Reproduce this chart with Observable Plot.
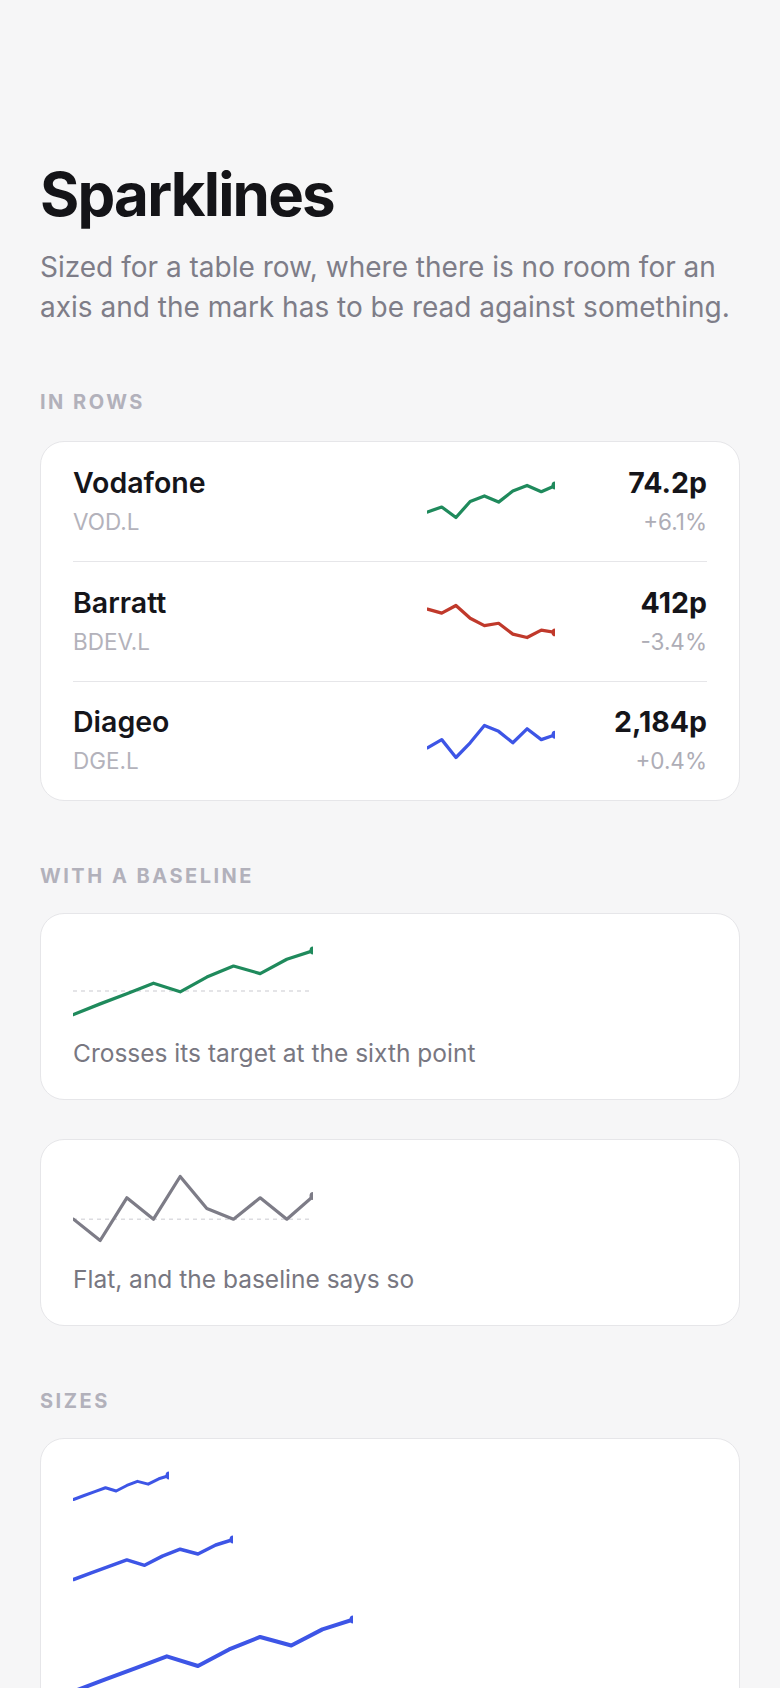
<!DOCTYPE html>
<html>
<head>
<meta charset="utf-8">
<script src="https://cdn.jsdelivr.net/npm/d3@7"></script>
<script src="https://cdn.jsdelivr.net/npm/@observablehq/plot@0.6"></script>
<style>
html, body { margin: 0; padding: 0; background: #f6f6f7; }
body { font-family: Inter, "Noto Sans", sans-serif; width: 780px; }
.wrap { padding: 164px 40px 60px 40px; }
h1 { margin: 0; font-size: 60px; line-height: 60px; font-weight: 700; letter-spacing: -0.03em; color: #141418; }
.sub { margin: 22.5px 0 0; font-size: 28px; line-height: 40px; color: #7e7d88; }
.label { font-size: 20px; line-height: 24px; font-weight: 700; letter-spacing: 0.125em; color: #b2b1bb; text-transform: uppercase; margin: 63.5px 0 26.7px; }
.label.l2, .label.l3 { margin-top: 63px; margin-bottom: 25.5px; }
.card { background: #fff; border: 1px solid #e6e6e9; border-radius: 24px; }
.rows { padding: 0 32px; }
.row { display: grid; grid-template-columns: 1fr 128px 120px; column-gap: 32px; align-items: center; height: 119px; }
.row + .row { border-top: 1px solid #e6e6e9; }
.row:last-child { height: 118px; }
.name { font-size: 28.5px; line-height: 32px; font-weight: 600; color: #15151a; }
.tick { font-size: 22.5px; line-height: 28px; color: #b3b2bb; margin-top: 9px; }
.right { text-align: right; }
.price { font-size: 28.5px; line-height: 32px; font-weight: 700; color: #15151a; }
.chg { font-size: 22.5px; line-height: 28px; color: #aeadb6; margin-top: 9px; }
.spark svg { display: block; }
.bcard { padding: 32px; }
.bcard + .bcard { margin-top: 38.5px; }
.cap { margin-top: 21px; font-size: 24.5px; line-height: 28px; color: #787781; }
.sizes { padding: 32px; }
.sizes .s + .s { margin-top: 32px; }
.sizes svg, .bcard svg { display: block; }
</style>
</head>
<body>
<div class="wrap">
  <h1>Sparklines</h1>
  <div class="sub">Sized for a table row, where there is no room for an axis and the mark has to be read against something.</div>

  <div class="label">In rows</div>
  <div class="card rows" id="rows"></div>

  <div class="label l2">With a baseline</div>
  <div class="card bcard" id="b1"><div class="chart"></div><div class="cap"></div></div>
  <div class="card bcard" id="b2"><div class="chart"></div><div class="cap"></div></div>

  <div class="label l3">Sizes</div>
  <div class="card sizes" id="sizes"></div>
</div>

<script>
// ---- data ----
const names = ["Vodafone", "Barratt", "Diageo"];
const tickers = ["VOD.L", "BDEV.L", "DGE.L"];
const prices = ["74.2p", "412p", "2,184p"];
const changes = ["+6.1%", "-3.4%", "+0.4%"];
const rowColors = ["#1f8a5c", "#c0392b", "#3d55e6"];
const vod = [69.9, 70.7, 69.0, 71.6, 72.5, 71.5, 73.3, 74.2, 73.2, 74.2];
const bdev = [426.5, 424.0, 428.8, 420.8, 416.2, 417.7, 410.9, 408.8, 413.4, 412.0];
const dge = [2175.3, 2180.7, 2168.8, 2178.6, 2190.1, 2186.2, 2178.6, 2187.9, 2180.7, 2184.0];
const rowSeries = [vod, bdev, dge];

const crossing = [38.5, 43.7, 48.7, 53.8, 49.6, 56.8, 62.2, 58.5, 65.5, 69.8];
const crossingTarget = 50;
const flat = [100, 89, 111, 100, 122, 105.5, 100, 111, 100, 112];
const flatTarget = 100;
const captions = ["Crosses its target at the sixth point", "Flat, and the baseline says so"];
const baselineColors = ["#1f8a5c", "#7d7c87"];

const sizeWidths = [96, 160, 280];
const sizeHeights = [32, 48, 80];
const sizeStrokes = [3, 3.5, 4];
const sizeColor = "#3d55e6";

// ---- sparkline ----
function spark(values, {width, height, color, target = null, margin = 4, sw = 3.25}) {
  const data = values.map((v, i) => ({i, v}));
  const marks = [];
  if (target !== null) {
    marks.push(Plot.ruleY([target], {stroke: "#dcdce0", strokeWidth: 1.5, strokeDasharray: "4 4"}));
  }
  marks.push(Plot.line(data, {x: "i", y: "v", stroke: color, strokeWidth: sw}));
  marks.push(Plot.dot(data.slice(-1), {x: "i", y: "v", fill: color, r: 4}));
  return Plot.plot({
    width, height,
    marginTop: margin, marginBottom: margin, marginLeft: 0, marginRight: 0,
    x: {axis: null}, y: {axis: null},
    style: {background: "transparent", overflow: "hidden"},
    marks
  });
}

// rows
const rowsEl = document.getElementById("rows");
names.forEach((n, k) => {
  const row = document.createElement("div");
  row.className = "row";
  row.innerHTML = `<div><div class="name">${n}</div><div class="tick">${tickers[k]}</div></div>
    <div class="spark"></div>
    <div class="right"><div class="price">${prices[k]}</div><div class="chg">${changes[k]}</div></div>`;
  row.querySelector(".spark").appendChild(spark(rowSeries[k], {width: 128, height: 40, color: rowColors[k]}));
  rowsEl.appendChild(row);
});

// baseline cards
[[crossing, crossingTarget], [flat, flatTarget]].forEach(([vals, t], k) => {
  const el = document.getElementById("b" + (k + 1));
  el.querySelector(".chart").appendChild(spark(vals, {width: 240, height: 72, color: baselineColors[k], target: t}));
  el.querySelector(".cap").textContent = captions[k];
});

// sizes
const sizesEl = document.getElementById("sizes");
sizeWidths.forEach((w, k) => {
  const d = document.createElement("div");
  d.className = "s";
  d.appendChild(spark(crossing, {width: w, height: sizeHeights[k], color: sizeColor, sw: sizeStrokes[k]}));
  sizesEl.appendChild(d);
});
</script>
</body>
</html>
